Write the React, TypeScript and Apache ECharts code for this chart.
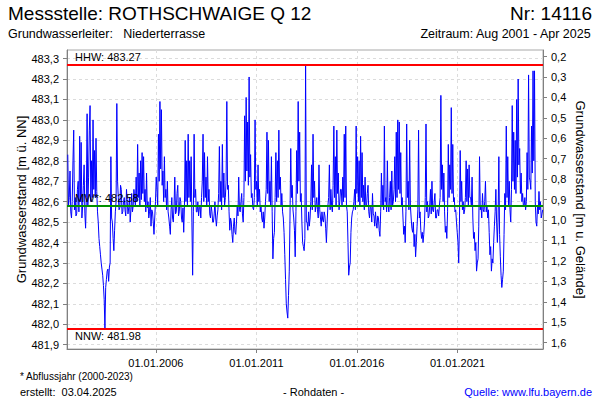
import React, { useEffect, useRef } from 'react';
import * as echarts from 'echarts';

// Groundwater level [m ü. NN], one reading every STEP_DAYS from START_UTC
const LEVELS_2001_2007 = [
  482.83, 482.58, 482.62, 482.75, 482.55, 482.52, 482.60, 482.80, 482.95, 482.56,
  482.62, 482.53, 482.54, 482.66, 482.70, 482.55, 482.92, 482.60, 482.89, 482.52,
  482.58, 482.68, 482.78, 482.54, 482.47, 482.62, 483.03, 482.58, 482.72, 482.95,
  483.07, 482.60, 482.80, 482.62, 483.00, 482.66, 482.85, 482.62, 482.91, 482.65,
  482.55, 482.50, 482.42, 482.38, 482.34, 482.30, 482.27, 482.24, 482.19, 482.12,
  481.98, 482.18, 482.22, 482.26, 482.27, 482.21, 482.28, 482.30, 482.82, 482.52,
  482.50, 482.42, 482.36, 482.46, 482.55, 482.60, 483.08, 482.70, 482.62, 482.56,
  482.57, 482.68, 482.66, 482.54, 482.55, 482.60, 482.62, 482.56, 482.53, 482.66,
  482.60, 482.54, 482.57, 482.62, 482.50, 482.56, 482.64, 482.55, 482.58, 482.66,
  482.62, 482.58, 482.72, 482.60, 482.88, 482.62, 482.74, 482.58, 482.80, 482.61,
  482.84, 482.64, 482.82, 482.60, 482.66, 482.55, 482.74, 482.57, 482.60, 482.52,
  482.55, 482.62, 482.48, 482.56, 482.55, 482.50, 482.44, 482.52, 482.60, 482.72,
  482.66, 482.58, 482.93, 482.70, 483.09, 482.76, 483.05, 482.68, 482.75, 482.60,
  482.82, 482.62, 482.66, 482.56, 482.70, 482.55, 482.52, 482.48, 482.44, 482.56,
  482.62, 482.52, 482.50, 482.58, 482.72, 482.54, 482.55, 482.64, 482.68, 482.53,
  482.55, 482.62, 482.60, 482.52, 482.50, 482.57, 482.45, 482.58, 482.90, 482.60,
];
const LEVELS_2007_2013 = [
  482.80, 482.58, 482.93, 482.62, 482.80, 482.60, 482.82, 482.50, 482.24, 482.55,
  482.93, 482.62, 482.66, 482.55, 482.55, 482.60, 482.53, 482.57, 482.58, 482.52,
  482.62, 482.70, 482.93, 482.60, 482.84, 482.62, 482.72, 482.58, 482.82, 482.60,
  482.66, 482.54, 482.52, 482.58, 482.55, 482.50, 482.50, 482.54, 482.60, 482.52,
  482.48, 482.53, 482.56, 482.64, 482.87, 482.60, 482.70, 482.56, 482.88, 482.62,
  482.74, 482.58, 482.62, 482.70, 483.09, 482.66, 482.68, 482.55, 482.46, 482.52,
  482.50, 482.44, 482.40, 482.48, 482.52, 482.45, 482.44, 482.50, 482.58, 482.53,
  482.72, 482.56, 482.55, 482.60, 482.64, 482.54, 482.50, 482.62, 483.02, 482.70,
  483.11, 482.75, 482.99, 482.68, 483.21, 482.72, 482.83, 482.62, 482.64, 482.57,
  482.56, 482.62, 483.00, 482.66, 482.70, 482.58, 482.78, 482.60, 482.66, 482.55,
  482.58, 482.52, 482.50, 482.55, 482.47, 482.52, 482.60, 482.66, 482.94, 482.64,
  482.90, 482.60, 482.70, 482.58, 482.82, 482.55, 482.32, 482.42, 482.45, 482.62,
  482.84, 482.60, 482.80, 482.62, 482.95, 482.66, 482.72, 482.58, 482.64, 482.55,
  482.52, 482.45, 482.34, 482.22, 482.10, 482.06, 482.03, 482.14, 482.26, 482.52,
  482.86, 482.62, 482.68, 482.56, 482.52, 482.46, 482.33, 482.55, 482.85, 482.64,
  483.09, 482.70, 482.94, 482.60, 482.64, 482.50, 482.40, 482.38, 482.36, 482.42,
];
const LEVELS_2013_2019 = [
  483.27, 482.50, 482.50, 482.46, 482.55, 482.48, 482.52, 482.60, 482.78, 482.56,
  482.93, 482.62, 482.70, 482.55, 482.58, 482.62, 482.56, 482.52, 482.78, 482.56,
  482.52, 482.48, 482.55, 482.51, 482.50, 482.55, 482.53, 482.47, 482.40, 482.50,
  482.58, 482.62, 482.78, 482.56, 482.66, 482.58, 482.55, 482.68, 482.97, 482.62,
  482.82, 482.58, 482.95, 482.64, 482.74, 482.56, 482.60, 482.66, 482.66, 482.58,
  482.72, 482.60, 482.93, 482.62, 482.97, 482.58, 482.55, 482.40, 482.24, 482.28,
  482.30, 482.45, 482.52, 482.55, 482.56, 482.60, 482.66, 482.56, 482.97, 482.64,
  482.82, 482.60, 482.80, 482.58, 482.92, 482.62, 482.84, 482.60, 482.68, 482.56,
  482.72, 482.58, 482.58, 482.64, 482.68, 482.55, 482.52, 482.58, 482.57, 482.50,
  482.64, 482.54, 482.53, 482.48, 482.55, 482.50, 482.47, 482.53, 482.52, 482.46,
  482.43, 482.55, 482.74, 482.58, 482.68, 482.56, 482.97, 482.60, 482.62, 482.55,
  482.80, 482.58, 482.55, 482.62, 482.70, 482.56, 482.75, 482.58, 482.60, 482.66,
  482.82, 482.60, 482.94, 482.62, 483.00, 482.66, 482.99, 482.64, 482.84, 482.58,
  482.62, 482.52, 482.44, 482.48, 482.40, 482.55, 482.98, 482.62, 482.70, 482.56,
  482.90, 482.58, 482.52, 482.47, 482.45, 482.50, 482.38, 482.44, 482.33, 482.40,
  482.48, 482.56, 482.95, 482.52, 482.55, 482.46, 482.42, 482.45,
];
const LEVELS_2019_2025 = [
  482.40, 482.44, 482.50, 482.62, 482.98, 482.55, 482.60, 482.52, 482.53, 482.58,
  482.66, 482.54, 482.70, 482.56, 482.55, 482.60, 482.64, 482.52, 482.52, 482.56,
  482.56, 482.53, 482.58, 482.62, 483.12, 482.66, 482.78, 482.60, 482.74, 482.55,
  482.45, 482.48, 482.42, 482.55, 482.88, 482.62, 482.78, 482.66, 483.06, 482.64,
  482.88, 482.60, 482.62, 482.55, 482.56, 482.50, 482.45, 482.40, 482.30, 482.50,
  482.85, 482.60, 482.70, 482.56, 482.60, 482.54, 482.56, 482.62, 482.80, 482.60,
  482.76, 482.58, 482.78, 482.62, 482.62, 482.58, 482.72, 482.52, 482.42, 482.45,
  482.36, 482.40, 482.26, 482.30, 482.32, 482.48, 482.82, 482.56, 482.58, 482.52,
  482.64, 482.56, 482.55, 482.60, 482.70, 482.55, 482.58, 482.52, 482.56, 482.45,
  482.34, 482.38, 482.26, 482.32, 482.30, 482.40, 482.48, 482.55, 482.66, 482.50,
  482.40, 482.52, 482.82, 482.44, 482.33, 482.24, 482.18, 482.22, 482.26, 482.44,
  482.64, 482.56, 482.97, 482.62, 482.82, 482.58, 482.70, 482.56, 482.50, 482.66,
  483.07, 482.70, 482.94, 482.66, 482.90, 482.64, 483.10, 482.72, 483.20, 482.78,
  482.86, 482.64, 482.74, 482.60, 482.64, 482.58, 482.58, 482.62, 482.56, 482.60,
  482.84, 482.66, 483.22, 482.72, 482.70, 482.66, 482.97, 482.74, 483.24, 482.80,
  483.24, 482.60, 482.50, 482.48, 482.58, 482.54, 482.65, 482.56, 482.60, 482.52,
  482.54, 482.56,
];

const START_UTC = Date.UTC(2001, 7, 15);
const STEP_DAYS = 13.5;
const X_MIN = Date.UTC(2001, 7, 1);
const X_MAX = Date.UTC(2025, 3, 3);
const X_TICKS = [Date.UTC(2006, 0, 1), Date.UTC(2011, 0, 1), Date.UTC(2016, 0, 1), Date.UTC(2021, 0, 1)];

const LEFT_TICKS = [481.9, 482.0, 482.1, 482.2, 482.3, 482.4, 482.5, 482.6, 482.7, 482.8, 482.9, 483.0, 483.1, 483.2, 483.3];
const RIGHT_TICKS = [0.2, 0.3, 0.4, 0.5, 0.6, 0.7, 0.8, 0.9, 1.0, 1.1, 1.2, 1.3, 1.4, 1.5, 1.6];
const Y_MIN = 481.879;
const Y_MAX = 483.342;
const GROUND = 483.51;

const HHW = 483.27;
const NNW = 481.98;
const MW = 482.58;

const FONT = '"Liberation Sans", Arial, sans-serif';

function fmtComma(v: number) {
  return v.toFixed(1).replace('.', ',');
}
function fmtDate(v: number) {
  const d = new Date(v);
  const dd = String(d.getUTCDate()).padStart(2, '0');
  const mm = String(d.getUTCMonth() + 1).padStart(2, '0');
  return `${dd}.${mm}.${d.getUTCFullYear()}`;
}

export default function App() {
  const ref = useRef<HTMLDivElement>(null);
  useEffect(() => {
    const chart = echarts.init(ref.current!, null, { renderer: 'svg' });
    const levels = [...LEVELS_2001_2007, ...LEVELS_2007_2013, ...LEVELS_2013_2019, ...LEVELS_2019_2025];
    const data = levels.map((v, i) => [START_UTC + i * STEP_DAYS * 86400000, v]);
    const grid = { color: '#dcdcdc', type: [3, 3] as number[], width: 1 };
    const option: any = {
      animation: false,
      backgroundColor: '#ffffff',
      textStyle: { fontFamily: FONT },
      grid: { left: 67, right: 57, top: 50, bottom: 51, show: true, borderColor: '#a8a8a8', borderWidth: 1 },
      graphic: [
        { type: 'text', left: 8, top: 4, style: { text: 'Messstelle: ROTHSCHWAIGE Q 12', font: `19px ${FONT}`, fill: '#000' } },
        { type: 'text', right: 8, top: 4, style: { text: 'Nr: 14116', font: `19px ${FONT}`, fill: '#000' } },
        { type: 'text', left: 8, top: 27, style: { text: 'Grundwasserleiter:   Niederterrasse', font: `12.5px ${FONT}`, fill: '#000' } },
        { type: 'text', right: 8, top: 27, style: { text: 'Zeitraum: Aug 2001 - Apr 2025', font: `12.5px ${FONT}`, fill: '#000' } },
        { type: 'text', left: 20, top: 371, style: { text: '* Abflussjahr (2000-2023)', font: `10px ${FONT}`, fill: '#000' } },
        { type: 'text', left: 20, top: 386, style: { text: 'erstellt:  03.04.2025', font: `11px ${FONT}`, fill: '#000' } },
        { type: 'text', left: 283, top: 386, style: { text: '- Rohdaten -', font: `11px ${FONT}`, fill: '#000' } },
        { type: 'text', right: 8, top: 386, style: { text: 'Quelle: www.lfu.bayern.de', font: `11px ${FONT}`, fill: '#0000ff' } },
      ],
      xAxis: {
        type: 'value',
        min: X_MIN,
        max: X_MAX,
        axisLine: { show: true, lineStyle: { color: '#808080', width: 1 } },
        axisTick: { show: true, length: 4, customValues: X_TICKS, lineStyle: { color: '#808080' } },
        axisLabel: { customValues: X_TICKS, formatter: fmtDate, color: '#000', fontSize: 11, margin: 8, fontFamily: FONT },
        splitLine: { show: true, lineStyle: grid },
      },
      yAxis: [
        {
          type: 'value',
          position: 'left',
          min: Y_MIN,
          max: Y_MAX,
          name: 'Grundwasserstand [m ü. NN]',
          nameLocation: 'middle',
          nameGap: 39,
          nameMoveOverlap: false,
          nameTextStyle: { fontSize: 13, color: '#000', fontFamily: FONT },
          axisLine: { show: true, lineStyle: { color: '#808080', width: 1 } },
          axisTick: { show: true, length: 4, customValues: LEFT_TICKS, lineStyle: { color: '#808080' } },
          axisLabel: { customValues: LEFT_TICKS, formatter: fmtComma, color: '#000', fontSize: 11, margin: 8, fontFamily: FONT },
          splitLine: { show: true, lineStyle: grid },
        },
        {
          type: 'value',
          position: 'right',
          inverse: true,
          min: GROUND - Y_MAX,
          max: GROUND - Y_MIN,
          name: 'Grundwasserstand [m u. Gelände]',
          nameLocation: 'middle',
          nameRotate: -90,
          nameGap: 31,
          nameMoveOverlap: false,
          nameTextStyle: { fontSize: 13, color: '#000', fontFamily: FONT },
          axisLine: { show: true, lineStyle: { color: '#808080', width: 1 } },
          axisTick: { show: true, length: 4, customValues: RIGHT_TICKS, lineStyle: { color: '#808080' } },
          axisLabel: { customValues: RIGHT_TICKS, formatter: fmtComma, color: '#000', fontSize: 11, margin: 8, fontFamily: FONT },
          splitLine: { show: false },
        },
      ],
      series: [
        {
          type: 'line',
          yAxisIndex: 0,
          data,
          symbol: 'none',
          showSymbol: false,
          lineStyle: { color: '#0000ff', width: 1 },
          z: 2,
        },
        {
          type: 'line',
          yAxisIndex: 0,
          data: [],
          z: 10,
          markLine: {
            silent: true,
            symbol: 'none',
            z: 10,
            data: [
              { yAxis: HHW, lineStyle: { color: '#ff0000', width: 2, type: 'solid' }, label: { position: 'insideStartTop', formatter: `HHW: ${HHW.toFixed(2)}` } },
              { yAxis: NNW, lineStyle: { color: '#ff0000', width: 2, type: 'solid' }, label: { position: 'insideStartBottom', formatter: `NNW: ${NNW.toFixed(2)}` } },
              { yAxis: MW, lineStyle: { color: '#009000', width: 2, type: 'solid' }, label: { position: 'insideStartTop', formatter: `MW*: ${MW.toFixed(2)}` } },
            ],
            label: { show: true, color: '#000', fontSize: 11, fontFamily: FONT, distance: [8, 2] },
          },
        },
      ],
    };
    chart.setOption(option);
    return () => chart.dispose();
  }, []);
  return <div ref={ref} style={{ position: 'absolute', left: 0, top: 0, width: 600, height: 400, background: '#fff' }} />;
}
